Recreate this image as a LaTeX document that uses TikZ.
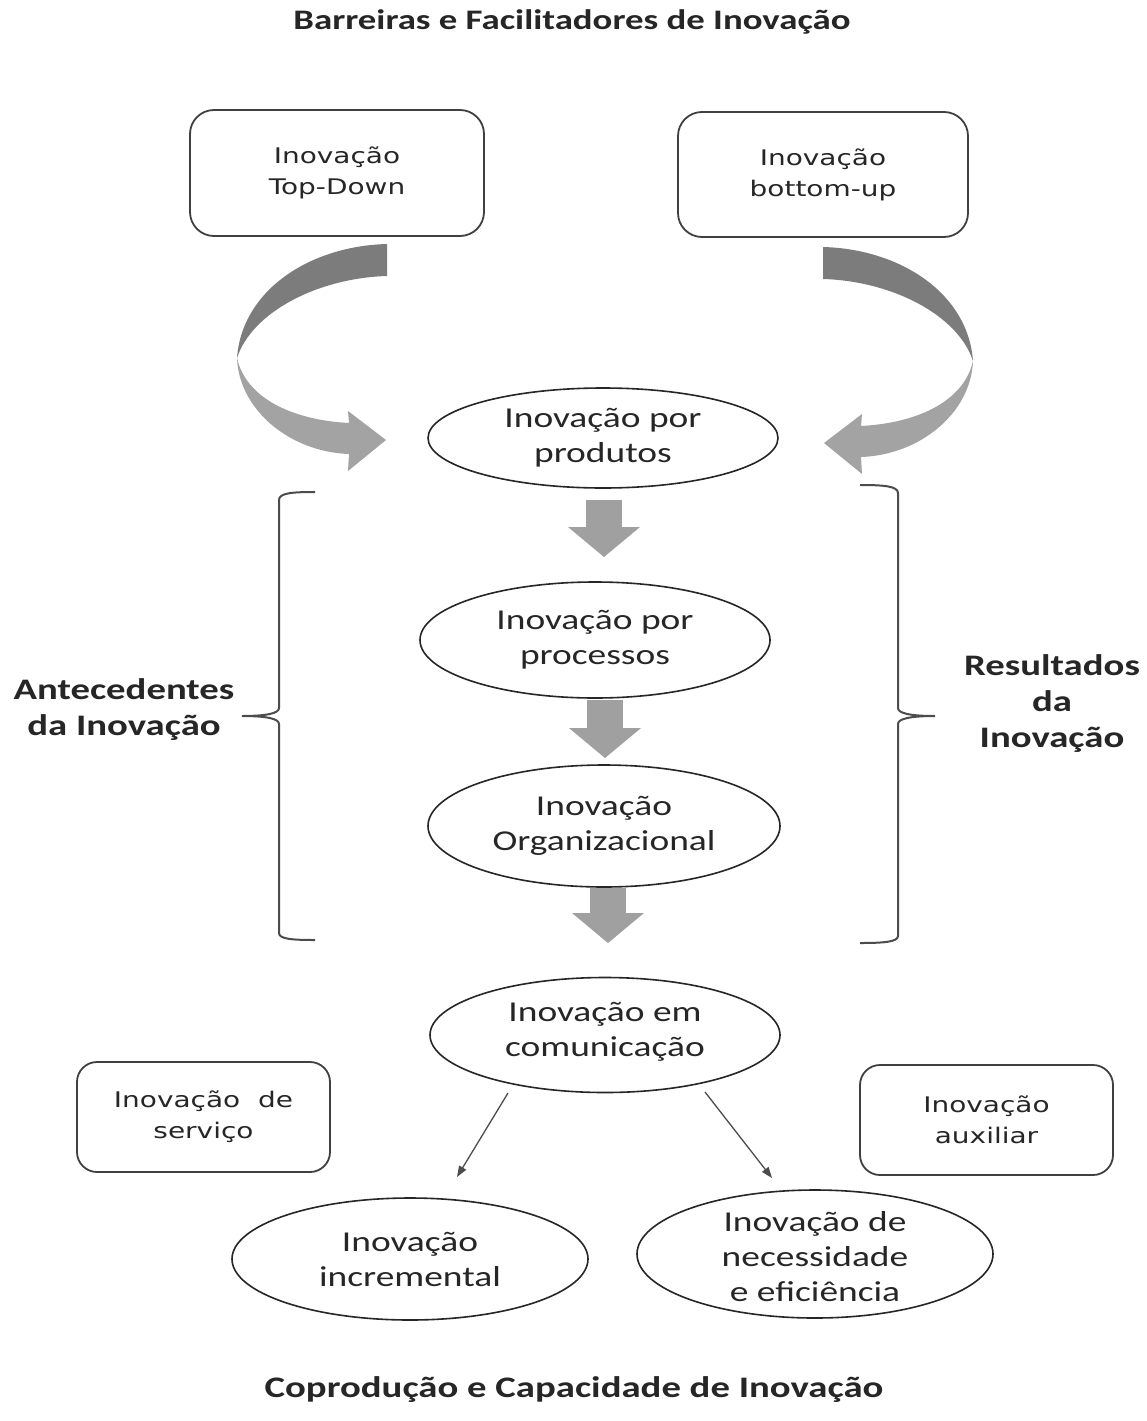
\documentclass[tikz,border=0pt]{standalone}
\usepackage{fontspec}
\usetikzlibrary{arrows.meta,shapes.geometric}
\newfontfamily\boxfont[FakeStretch=1.3]{DejaVu Sans}
\newfontfamily\ellfont[FakeStretch=1.3]{Carlito}
\definecolor{txt}{HTML}{262626}
\definecolor{cadark}{HTML}{7C7C7C}
\definecolor{calight}{HTML}{A3A3A3}
\definecolor{arrgray}{HTML}{A0A0A0}
\newcommand\curvarrowshape{%
  \fill[cadark] (387,244) .. controls (310,246) and (242,290) .. (237,358)
     .. controls (252,312) and (318,278) .. (387,276) -- cycle;
  \fill[calight] (237,358) .. controls (239,410) and (290,452) .. (349,454)
     -- (348,471) -- (386,440) -- (348,411) -- (349,423)
     .. controls (292,420) and (246,398) .. (237,358) -- cycle;
}
\tikzset{
  ell/.style={draw=black!85, line width=1.6pt, ellipse, inner sep=0pt},
  rbox/.style={draw=black!75, line width=1.8pt, rounded corners=24pt, align=center,
    font=\boxfont\fontsize{21.5}{31}\selectfont, text=txt, inner sep=0pt},
  etext/.style={align=center, font=\ellfont\fontsize{28.8}{35}\selectfont, text=txt},
  blabel/.style={align=center, font=\ellfont\bfseries\fontsize{29.8}{36}\selectfont, text=txt},
  blockarr/.style={draw=arrgray, line width=36pt, -{Triangle[length=30pt,width=72pt,line width=0pt]}},
  thinarr/.style={draw=black!70, line width=1.3pt, -{Triangle[length=11pt,width=8pt]}},
  bracestyle/.style={draw=black!70, line width=2pt}
}
\begin{document}
\begin{tikzpicture}[x=1pt,y=-1pt]
\useasboundingbox (0,0) rectangle (1146,1421);
\fill[white] (0,0) rectangle (1146,1421);

% titles
\node[blabel, font=\ellfont\bfseries\fontsize{28.3}{34}\selectfont] (title) at (572,22) {Barreiras e Facilitadores de Inovação};
\node[blabel, font=\ellfont\bfseries\fontsize{29.8}{36}\selectfont] (bottomtitle) at (574,1390) {Coprodução e Capacidade de Inovação};

% top boxes
\node[rbox, minimum width=294pt, minimum height=126pt] (topdown) at (337,173) {Inovação\\Top-Down};
\node[rbox, minimum width=290pt, minimum height=125pt] (bottomup) at (823,174.5) {Inovação\\bottom-up};

% curved arrows
\begin{scope}
  \curvarrowshape
\end{scope}
\begin{scope}[xshift=1210pt, yshift=-3pt, xscale=-1]
  \curvarrowshape
\end{scope}

% ellipses
\node[ell, minimum width=350pt, minimum height=100pt] (e1) at (603,438) {};
\node[etext] (e1t) at (e1) {Inovação por\\produtos};
\node[ell, minimum width=350pt, minimum height=116pt] (e2) at (595,640) {};
\node[etext] (e2t) at (e2) {Inovação por\\processos};
\node[ell, minimum width=352pt, minimum height=122pt] (e3) at (604,826) {};
\node[etext] (e3t) at (e3) {Inovação\\Organizacional};
\node[ell, minimum width=350pt, minimum height=115pt] (e4) at (605,1035) {};
\node[etext] (e4t) at (605,1032) {Inovação em\\comunicação};
\node[ell, minimum width=356pt, minimum height=122pt] (e5) at (410,1259) {};
\node[etext] (e5t) at (e5) {Inovação\\incremental};
\node[ell, minimum width=356pt, minimum height=128pt] (e6) at (815,1254) {};
\node[etext] (e6t) at (815,1257) {Inovação de\\necessidade\\e eficiência};

% block arrows
\coordinate (a1s) at (604,500); \coordinate (a1e) at (604,557);
\coordinate (a2s) at (605,700); \coordinate (a2e) at (605,758);
\coordinate (a3s) at (608,888); \coordinate (a3e) at (608,943);
\draw[blockarr] (a1s) -- (a1e);
\draw[blockarr] (a2s) -- (a2e);
\draw[blockarr] (a3s) -- (a3e);

% braces
\draw[bracestyle] (315,492) .. controls (292,492) and (279,493) .. (279,500) -- (279,708)
  .. controls (279,713) and (268,716) .. (242,716)
  .. controls (268,716) and (279,719) .. (279,724) -- (279,933)
  .. controls (279,939) and (292,940) .. (315,940);
\draw[bracestyle] (860,485) .. controls (883,485) and (898,486) .. (898,493) -- (898,708)
  .. controls (898,713) and (909,716) .. (935,716)
  .. controls (909,716) and (898,719) .. (898,724) -- (898,936)
  .. controls (898,942) and (883,943) .. (860,943);

% side labels
\node[blabel] (antec) at (124,710) {Antecedentes\\da Inovação};
\node[blabel] (result) at (1052,704) {Resultados\\da\\Inovação};

% bottom boxes
\node[rbox, rounded corners=20pt, minimum width=253pt, minimum height=110pt] (servico) at (203.5,1117) {Inovação~ de\\serviço};
\node[rbox, rounded corners=20pt, minimum width=253pt, minimum height=110pt] (auxiliar) at (986.5,1120) {Inovação\\auxiliar};

% thin arrows
\draw[thinarr] ([xshift=-97pt,yshift=-58pt]e4.center) -- ([xshift=47pt,yshift=82pt]e5.center);
\draw[thinarr] ([xshift=100pt,yshift=-57pt]e4.center) -- ([xshift=-43pt,yshift=76pt]e6.center);
\end{tikzpicture}
\end{document}
